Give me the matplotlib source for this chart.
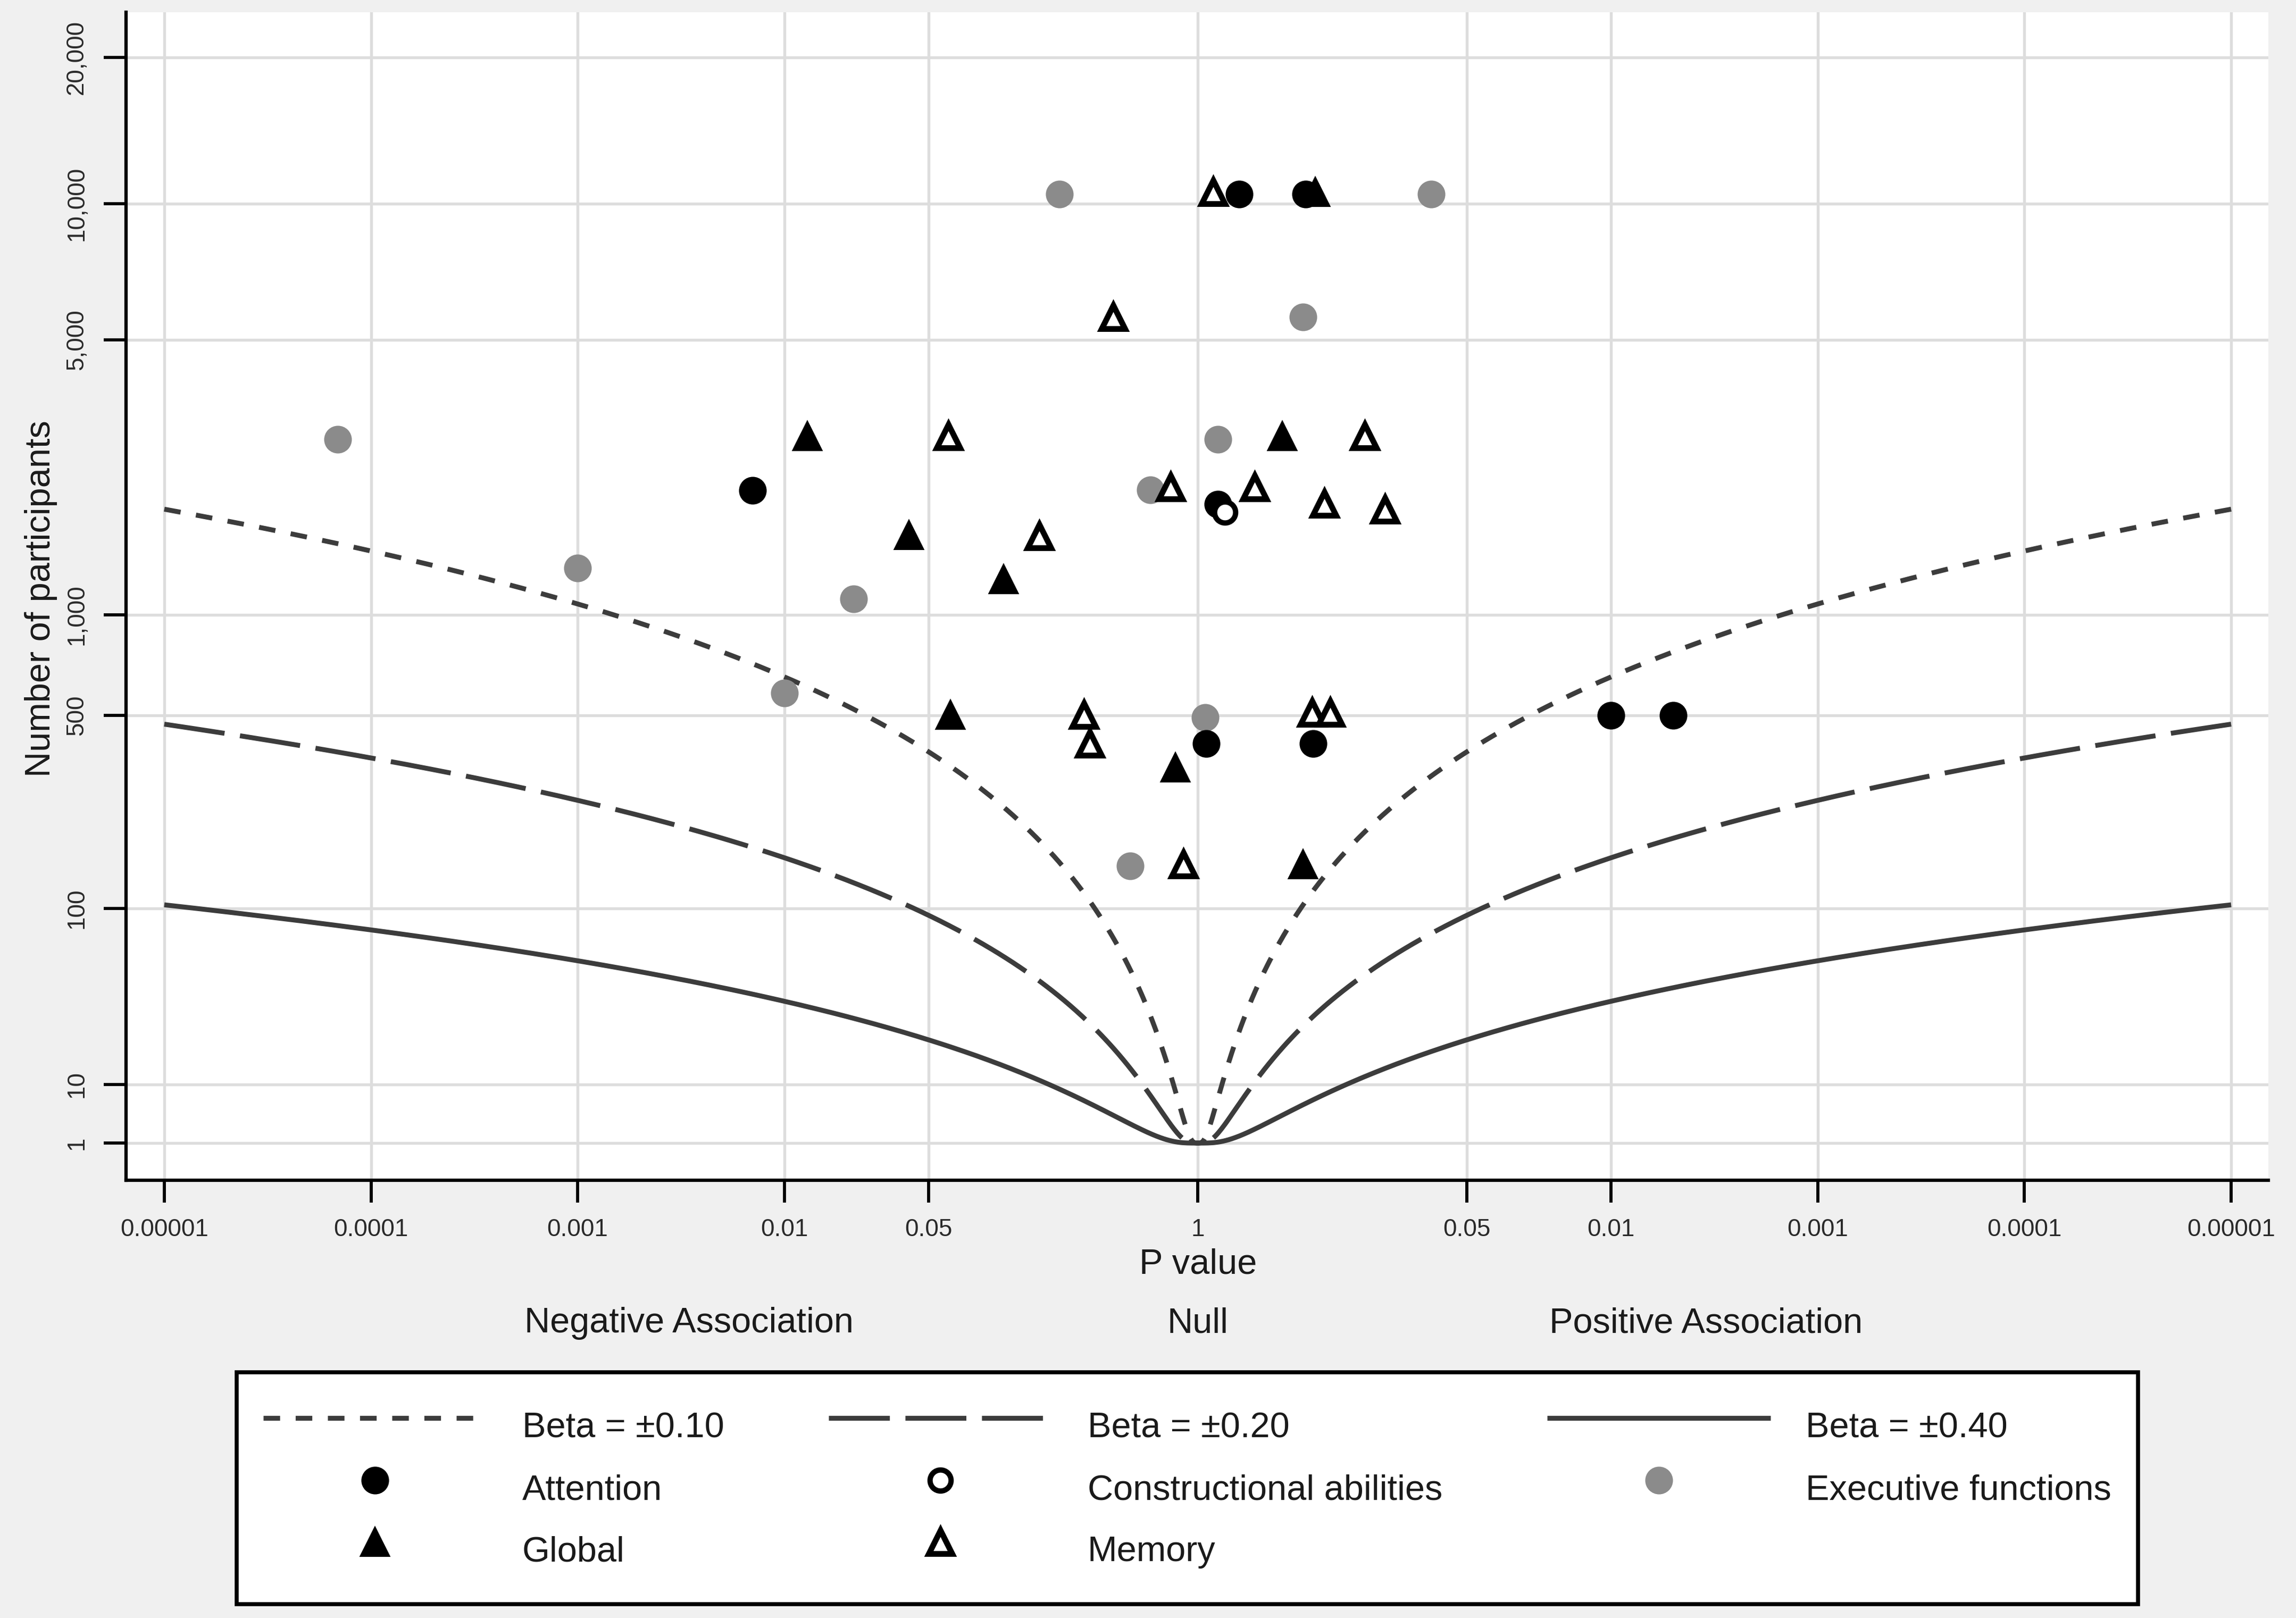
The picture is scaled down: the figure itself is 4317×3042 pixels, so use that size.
import math
import numpy as np
import matplotlib
matplotlib.use("Agg")
import matplotlib.pyplot as plt
from matplotlib.lines import Line2D
from matplotlib import transforms

plt.rcParams['font.family'] = ['Liberation Sans', 'DejaVu Sans']

# ---------------- data ----------------
beta_values = [0.10, 0.20, 0.40]
beta_labels = ["Beta = \u00b10.10", "Beta = \u00b10.20", "Beta = \u00b10.40"]

# direction: -1 negative association, +1 positive association
attention_p = [0.0070, 0.63, 0.30, 0.80, 0.91, 0.277, 0.010, 0.005]
attention_dir = [-1, 1, 1, 1, 1, 1, 1, 1]
attention_n = [2160, 10500, 10500, 1990, 407, 407, 500, 500]

constructional_p = [0.74]
constructional_dir = [1]
constructional_n = [1900]

executive_p = [0.000069, 0.001, 0.0216, 0.010, 0.214, 0.59, 0.80, 0.92, 0.47, 0.31, 0.074]
executive_dir = [-1, -1, -1, -1, -1, -1, 1, 1, -1, 1, 1]
executive_n = [2900, 1350, 1110, 588, 10500, 2170, 2900, 493, 149, 5640, 10500]

global_p = [0.0129, 0.040, 0.115, 0.0635, 0.78, 0.39, 0.27, 0.31]
global_dir = [-1, -1, -1, -1, -1, 1, 1, 1]
global_n = [2950, 1655, 1259, 503, 339, 2950, 10600, 151]

memory_p = [0.84, 0.39, 0.062, 0.171, 0.74, 0.53, 0.156, 0.244, 0.124, 0.281, 0.30, 0.279, 0.228, 0.85]
memory_dir = [1, -1, -1, -1, -1, 1, 1, 1, 1, -1, -1, 1, 1, -1]
memory_n = [10600, 5640, 2950, 1640, 2200, 2200, 2950, 2000, 1930, 503, 407, 510, 510, 151]

x_tick_p = [0.00001, 0.0001, 0.001, 0.01, 0.05, 1, 0.05, 0.01, 0.001, 0.0001, 0.00001]
x_tick_dir = [-1, -1, -1, -1, -1, 0, 1, 1, 1, 1, 1]
x_tick_labels = ["0.00001", "0.0001", "0.001", "0.01", "0.05", "1",
                 "0.05", "0.01", "0.001", "0.0001", "0.00001"]
y_ticks = [1, 10, 100, 500, 1000, 5000, 10000, 20000]
y_tick_labels = ["1", "10", "100", "500", "1,000", "5,000", "10,000", "20,000"]

region_labels = ["Negative Association", "Null", "Positive Association"]
region_pos = [-2.46, 0.0, 2.46]


# ---------------- helpers ----------------
def pos(p, d):
    return np.asarray(d, float) * -np.log10(np.asarray(p, float))


def fwd(n):
    n = np.clip(np.asarray(n, float), 1e-12, None)
    l = np.log10(n)
    return np.sign(l) * l ** 2


def inv(y):
    y = np.asarray(y, float)
    return 10 ** (np.sign(y) * np.sqrt(np.abs(y)))


def z_from_p(p):
    lo, hi = 0.0, 12.0
    for _ in range(80):
        mid = 0.5 * (lo + hi)
        if math.erfc(mid / math.sqrt(2)) > p:
            lo = mid
        else:
            hi = mid
    return 0.5 * (lo + hi)


# ---------------- figure ----------------
W, H = 4317, 3042
fig = plt.figure(figsize=(W / 300, H / 300), dpi=300, facecolor='#f0f0f0')
ax = fig.add_axes([237 / W, 1 - 2219 / H, (4265 - 237) / W, (2219 - 23) / H])
ax.set_facecolor('white')

ax.set_yscale('function', functions=(fwd, inv))
ax.set_xlim(-5.185, 5.18)
ax.set_ylim(0.16, 24500)

line_color = '#3c3c3c'
styles = [(0, (3.4, 3.2)), (0, (12.5, 3.2)), '-']
lw = 2.2
p_grid = np.logspace(-5, 0, 700)
z_grid = np.array([z_from_p(p) for p in p_grid])
for b, st in zip(beta_values, styles):
    n_curve = (z_grid * math.sqrt(1 - b ** 2) / b) ** 2 + 1
    for d in (-1, 1):
        ax.plot(pos(p_grid, d * np.ones_like(p_grid)), n_curve, color=line_color,
                lw=lw, ls=st, zorder=2, solid_capstyle='butt', dash_capstyle='butt')

gray = '#8b8b8b'
ax.plot(pos(executive_p, executive_dir), executive_n, ls='none', marker='o', ms=11.5,
        mfc=gray, mec=gray, zorder=3, clip_on=False)
ax.plot(pos(attention_p, attention_dir), attention_n, ls='none', marker='o', ms=11.5,
        mfc='black', mec='black', zorder=3, clip_on=False)
ax.plot(pos(constructional_p, constructional_dir), constructional_n, ls='none', marker='o',
        ms=9.5, mfc='white', mec='black', mew=2.4, zorder=3, clip_on=False)
ax.plot(pos(global_p, global_dir), global_n, ls='none', marker='^', ms=12.5,
        mfc='black', mec='black', zorder=3, clip_on=False)
ax.plot(pos(memory_p, memory_dir), memory_n, ls='none', marker='^', ms=10.5,
        mfc='white', mec='black', mew=2.6, zorder=3, clip_on=False)

# axes styling
for s in ('top', 'right'):
    ax.spines[s].set_visible(False)
for s in ('left', 'bottom'):
    ax.spines[s].set_linewidth(1.5)
    ax.spines[s].set_color('black')

ax.set_xticks(pos(x_tick_p, x_tick_dir), x_tick_labels)
ax.set_yticks(y_ticks, y_tick_labels, rotation=90, va='center')
ax.minorticks_off()
ax.tick_params(axis='both', direction='out', length=10, width=1.4, color='black',
               labelsize=11, labelcolor='#2a2a2a', pad=7)
ax.grid(True, color='#dddddd', lw=1.3, zorder=0)
ax.set_axisbelow(True)

ax.set_ylabel("Number of participants", fontsize=16, color='#1a1a1a')
ax.yaxis.label.set_va('center')
ax.yaxis.set_label_coords(-0.0397, 0.498)
ax.set_xlabel("P value", fontsize=16, color='#1a1a1a')
ax.xaxis.label.set_va('center')
ax.xaxis.set_label_coords(0.5003, -0.072)

trans = transforms.blended_transform_factory(ax.transData, ax.transAxes)
for lab, xp in zip(region_labels, region_pos):
    ax.text(xp, -0.1225, lab, transform=trans, ha='center', va='center',
            fontsize=16, color='#1a1a1a', clip_on=False)

# legend
h_b = [Line2D([], [], color=line_color, lw=lw, ls=st, solid_capstyle='butt',
              dash_capstyle='butt') for st in styles]
h_att = Line2D([], [], ls='none', marker='o', ms=11.5, mfc='black', mec='black')
h_con = Line2D([], [], ls='none', marker='o', ms=9.5, mfc='white', mec='black', mew=2.4)
h_exe = Line2D([], [], ls='none', marker='o', ms=11.5, mfc=gray, mec=gray)
h_glo = Line2D([], [], ls='none', marker='^', ms=12.5, mfc='black', mec='black')
h_mem = Line2D([], [], ls='none', marker='^', ms=10.5, mfc='white', mec='black', mew=2.6)

handles = [h_b[0], h_att, h_glo, h_b[1], h_con, h_mem, h_b[2], h_exe]
labels = [beta_labels[0], "Attention", "Global", beta_labels[1],
          "Constructional abilities", "Memory", beta_labels[2], "Executive functions"]
leg = fig.legend(handles, labels, ncol=3, loc='upper left',
                 bbox_to_anchor=(445 / W, 1 - 2580 / H), borderaxespad=0,
                 frameon=True, fancybox=False, edgecolor='black', facecolor='white',
                 framealpha=1, fontsize=16, handlelength=6.3, handleheight=2.0,
                 handletextpad=1.0, columnspacing=2.95, labelspacing=0.2,
                 borderpad=0.75)
leg.get_frame().set_linewidth(1.8)
for t in leg.get_texts():
    t.set_color('#1a1a1a')

fig.savefig("out.png", dpi=300, facecolor=fig.get_facecolor())
